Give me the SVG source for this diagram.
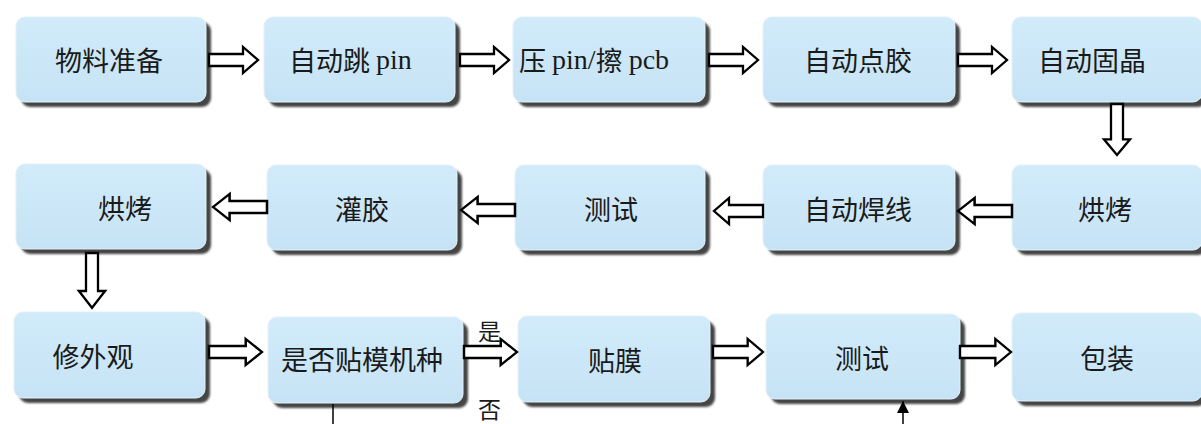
<svg xmlns="http://www.w3.org/2000/svg" width="1201" height="424" viewBox="0 0 1201 424">
<defs>
<linearGradient id="gb" x1="0" y1="0" x2="0" y2="1">
<stop offset="0" stop-color="#d1ebfa"/>
<stop offset="1" stop-color="#c6e3f5"/>
</linearGradient>
<filter id="sh" x="-5%" y="-10%" width="115%" height="130%">
<feGaussianBlur stdDeviation="0.8"/>
</filter>
<marker id="ah" markerWidth="13" markerHeight="12" refX="12" refY="6" orient="auto" markerUnits="userSpaceOnUse">
<path d="M0,0 L12,6 L0,12 Z" fill="#000"/>
</marker>
<path id="ar" d="M0,-6 L34,-6 L34,-13 L49,0 L34,13 L34,6 L0,6 Z"/>
</defs>
<style>
.sh{fill:#454545;filter:url(#sh)}
.bx{fill:url(#gb);stroke:#e3f1fa;stroke-width:1}
.t{font-family:"Noto Sans CJK SC","Liberation Serif",serif;font-size:27px;fill:#1a1a1a;dominant-baseline:central}
.l{font-family:"Liberation Serif","Noto Sans CJK SC",serif;font-size:28px}
.a{fill:#fff;stroke:#000;stroke-width:2.3;stroke-linejoin:miter}
.ln{stroke:#000;stroke-width:1.5;fill:none}
.lb{font-family:"Noto Sans CJK SC",sans-serif;font-size:23px;fill:#1a1a1a}
</style>
<rect width="1201" height="424" fill="#fff"/>

<g id="n1"><rect class="sh" x="21" y="22" width="190" height="85" rx="9"/><rect class="bx" x="16" y="17" width="190" height="85" rx="9"/><text class="t" x="109" y="59" text-anchor="middle">物料准备</text></g>
<g id="n2"><rect class="sh" x="269" y="22" width="191" height="85" rx="9"/><rect class="bx" x="264" y="17" width="191" height="85" rx="9"/><text class="t" x="289" y="59">自动跳 <tspan class="l">pin</tspan></text></g>
<g id="n3"><rect class="sh" x="518" y="22" width="192" height="85" rx="9"/><rect class="bx" x="513" y="17" width="192" height="85" rx="9"/><text class="t" x="519" y="59">压 <tspan class="l">pin/</tspan>擦 <tspan class="l">pcb</tspan></text></g>
<g id="n4"><rect class="sh" x="768" y="22" width="192" height="85" rx="9"/><rect class="bx" x="763" y="17" width="192" height="85" rx="9"/><text class="t" x="858" y="59" text-anchor="middle">自动点胶</text></g>
<g id="n5"><rect class="sh" x="1017" y="22" width="190" height="85" rx="9"/><rect class="bx" x="1012" y="17" width="190" height="85" rx="9"/><text class="t" x="1092" y="59" text-anchor="middle">自动固晶</text></g>

<g id="n6"><rect class="sh" x="21" y="169" width="190" height="85" rx="9"/><rect class="bx" x="16" y="164" width="190" height="85" rx="9"/><text class="t" x="125" y="207" text-anchor="middle">烘烤</text></g>
<g id="n7"><rect class="sh" x="272" y="170" width="190" height="85" rx="9"/><rect class="bx" x="267" y="165" width="190" height="85" rx="9"/><text class="t" x="362" y="208" text-anchor="middle">灌胶</text></g>
<g id="n8"><rect class="sh" x="520" y="170" width="190" height="85" rx="9"/><rect class="bx" x="515" y="165" width="190" height="85" rx="9"/><text class="t" x="611" y="208" text-anchor="middle">测试</text></g>
<g id="n9"><rect class="sh" x="768" y="170" width="192" height="85" rx="9"/><rect class="bx" x="763" y="165" width="192" height="85" rx="9"/><text class="t" x="858" y="208" text-anchor="middle">自动焊线</text></g>
<g id="n10"><rect class="sh" x="1017" y="170" width="190" height="85" rx="9"/><rect class="bx" x="1012" y="165" width="190" height="85" rx="9"/><text class="t" x="1105" y="208" text-anchor="middle">烘烤</text></g>

<g id="n11"><rect class="sh" x="19" y="317" width="191" height="86" rx="9"/><rect class="bx" x="14" y="312" width="191" height="86" rx="9"/><text class="t" x="93" y="355" text-anchor="middle">修外观</text></g>
<g id="n12"><rect class="sh" x="273" y="322" width="195" height="86" rx="9"/><rect class="bx" x="268" y="317" width="195" height="86" rx="9"/><text class="t" x="362" y="358" text-anchor="middle">是否贴模机种</text></g>
<g id="n13"><rect class="sh" x="523" y="321" width="192" height="86" rx="9"/><rect class="bx" x="518" y="316" width="192" height="86" rx="9"/><text class="t" x="615" y="359" text-anchor="middle">贴膜</text></g>
<g id="n14"><rect class="sh" x="771" y="319" width="194" height="85" rx="9"/><rect class="bx" x="766" y="314" width="194" height="85" rx="9"/><text class="t" x="862" y="357" text-anchor="middle">测试</text></g>
<g id="n15"><rect class="sh" x="1017" y="318" width="190" height="88" rx="9"/><rect class="bx" x="1012" y="313" width="190" height="88" rx="9"/><text class="t" x="1107" y="357" text-anchor="middle">包装</text></g>

<g id="connectors">
<use href="#ar" class="a" transform="translate(209,60)"/>
<use href="#ar" class="a" transform="translate(460,60)"/>
<use href="#ar" class="a" transform="translate(709,60)"/>
<use href="#ar" class="a" transform="translate(958,60)"/>
<use href="#ar" class="a" transform="translate(1117,104) rotate(90) scale(1.04,1)"/>
<use href="#ar" class="a" transform="translate(1012,211) rotate(180) scale(1.1,1)"/>
<use href="#ar" class="a" transform="translate(763,211) rotate(180)"/>
<use href="#ar" class="a" transform="translate(515,210) rotate(180) scale(1.1,1)"/>
<use href="#ar" class="a" transform="translate(267,207) rotate(180) scale(1.1,1)"/>
<use href="#ar" class="a" transform="translate(92,253) rotate(90) scale(1.12,1)"/>
<use href="#ar" class="a" transform="translate(209,352) scale(1.08,1)"/>
<use href="#ar" class="a" transform="translate(464,352) scale(1.08,1)"/>
<use href="#ar" class="a" transform="translate(713,352) scale(1.02,1)"/>
<use href="#ar" class="a" transform="translate(960,352) scale(1.04,1)"/>
<line class="ln" x1="333" y1="404" x2="333" y2="424"/>
<line class="ln" x1="903" y1="424" x2="903" y2="401" marker-end="url(#ah)"/>
<text class="lb" x="478" y="340">是</text>
<text class="lb" x="478" y="418">否</text>
</g>
</svg>
